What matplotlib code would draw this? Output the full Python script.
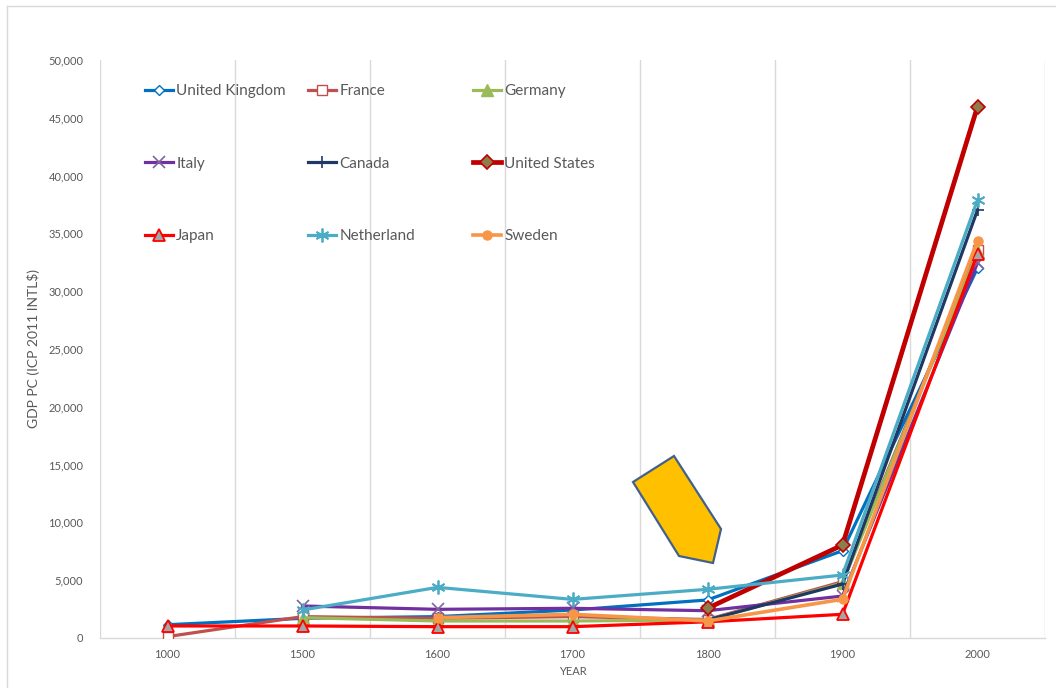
import numpy as np
import matplotlib
matplotlib.use("Agg")
import matplotlib.pyplot as plt
from matplotlib.legend import Legend
from matplotlib.patches import Polygon
from matplotlib.ticker import FuncFormatter

nan = np.nan

years = ["1000", "1500", "1600", "1700", "1800", "1900", "2000"]

united_kingdom = [1150, 1700, 1850, 2420, 3290, 7550, 32000]
france = [120, 1850, 1700, 1850, 1600, 4870, 33560]
germany = [nan, 1760, 1470, 1470, 1560, 4750, 33400]
italy = [nan, 2770, 2480, 2570, 2360, 3630, 32450]
canada = [nan, nan, nan, nan, 1560, 4670, 37020]
united_states = [nan, nan, nan, nan, 2570, 8040, 45970]
japan = [1040, 1040, 980, 980, 1400, 2050, 33220]
netherland = [nan, 2420, 4380, 3340, 4210, 5450, 37890]
sweden = [nan, nan, 1760, 2050, 1470, 3350, 34380]

plt.rcParams["font.family"] = ["Lato", "DejaVu Sans"]
TXT = "#595959"
GRID = "#D9D9D9"

fig = plt.figure(figsize=(10.56, 6.88), dpi=100)
ax = fig.add_axes([100 / 1056, 1 - 638 / 688, 945 / 1056, 578 / 688])

x = np.arange(len(years))

styles = [
    ("United Kingdom", united_kingdom, dict(color="#0070C0", lw=2.3, marker="D", ms=5.5,
                                            mfc="white", mec="#0070C0", mew=1.0)),
    ("France", france, dict(color="#C0504D", lw=2.3, marker="s", ms=7,
                            mfc="white", mec="#C0504D", mew=1.0)),
    ("Germany", germany, dict(color="#9BBB59", lw=2.3, marker="^", ms=8,
                              mfc="#9BBB59", mec="#9BBB59", mew=1.0)),
    ("Italy", italy, dict(color="#7030A0", lw=2.3, marker="x", ms=8,
                          mec="#8064A2", mew=1.2)),
    ("Canada", canada, dict(color="#1F3864", lw=2.3, marker="+", ms=9,
                            mec="#1F3864", mew=1.2)),
    ("United States", united_states, dict(color="#C00000", lw=3.4, marker="D", ms=7,
                                          mfc="#8C7D4B", mec="#C00000", mew=1.2)),
    ("Japan", japan, dict(color="#FF0000", lw=2.3, marker="^", ms=8.5,
                          mfc="#A5A5A5", mec="#FF0000", mew=1.3)),
    ("Netherland", netherland, dict(color="#4BACC6", lw=2.3, marker=(6, 2, 0), ms=10,
                                    mec="#4BACC6", mew=1.3)),
    ("Sweden", sweden, dict(color="#F79646", lw=2.6, marker="o", ms=6.5,
                            mfc="#F79646", mec="#F79646", mew=1.0)),
]

handles = []
for name, vals, kw in styles:
    (ln,) = ax.plot(x, vals, label=name, zorder=3, **kw)
    handles.append(ln)

ax.set_xlim(-0.5, len(years) - 0.5)
ax.set_ylim(0, 50000)
ax.set_yticks(np.arange(0, 50001, 5000))
ax.yaxis.set_major_formatter(FuncFormatter(lambda v, p: f"{int(v):,}"))
ax.set_xticks(x)
ax.set_xticklabels(years)
ax.tick_params(length=0, labelsize=8, colors=TXT)
ax.tick_params(axis="x", pad=8)
ax.tick_params(axis="y", pad=12)

for k in range(len(years) + 1):
    ax.axvline(k - 0.5, color=GRID, lw=1.0, zorder=1)

for side in ["top", "right", "left"]:
    ax.spines[side].set_visible(False)
ax.spines["bottom"].set_color(GRID)
ax.spines["bottom"].set_linewidth(1.0)

ax.set_xlabel("YEAR", fontsize=8, color=TXT, labelpad=4)
ax.set_ylabel("GDP PC (ICP 2011 INTL$)", fontsize=10, color=TXT, labelpad=6)

# legend laid out as three columns of three entries
col_x = [(145 - 100) / 945, (308 - 100) / 945, (473 - 100) / 945]
for c in range(3):
    hs = handles[c::3]
    leg = Legend(ax, hs, [h.get_label() for h in hs], loc="upper left",
                 bbox_to_anchor=(col_x[c], 0.958), frameon=False, fontsize=11,
                 labelcolor=TXT, borderpad=0, borderaxespad=0, handlelength=1.8,
                 handletextpad=0.25, labelspacing=3.82)
    ax.add_artist(leg)

# callout shape pointing at the 1800 turn
pts_px = [(633, 482), (674, 456), (721, 529), (713, 563), (679, 556)]
poly = Polygon([(px / 1056, 1 - py / 688) for px, py in pts_px], closed=True,
               transform=fig.transFigure, facecolor="#FFC000", edgecolor="#41618C",
               linewidth=1.6, zorder=5)
fig.patches.append(poly)

# chart frame
fig.add_artist(plt.Line2D([7 / 1056, 7 / 1056], [0, 1 - 6 / 688], color=GRID, lw=1.0,
                          transform=fig.transFigure))
fig.add_artist(plt.Line2D([7 / 1056, 1], [1 - 6 / 688, 1 - 6 / 688], color=GRID, lw=1.0,
                          transform=fig.transFigure))

fig.savefig("out.png", dpi=100, facecolor="white")
